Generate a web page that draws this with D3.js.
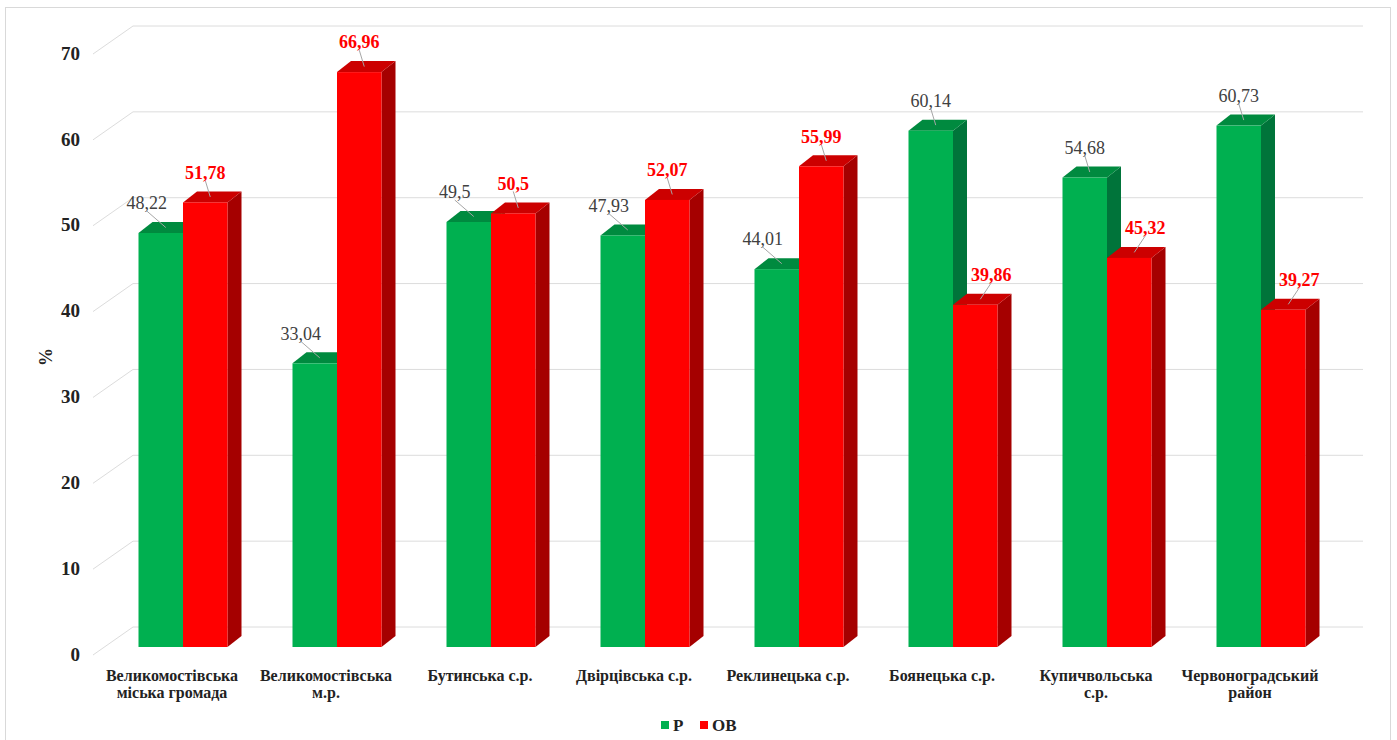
<!DOCTYPE html>
<html>
<head>
<meta charset="utf-8">
<script src="https://cdn.jsdelivr.net/npm/d3@7"></script>
<style>
  html, body { margin: 0; padding: 0; background: #ffffff; }
  svg { display: block; }
  text { font-family: "Liberation Serif", "Times New Roman", Tinos, "DejaVu Serif", serif; }
</style>
</head>
<body>
<svg id="chart" width="1397" height="740"></svg>
<script>
// ---- data ----
const categories = [
  ["Великомостівська", "міська громада"],
  ["Великомостівська", "м.р."],
  ["Бутинська с.р."],
  ["Двірцівська с.р."],
  ["Реклинецька с.р."],
  ["Боянецька с.р."],
  ["Купичвольська", "с.р."],
  ["Червоноградський", "район"]
];
const seriesNames = ["Р", "ОВ"];
const valuesP  = [48.22, 33.04, 49.5, 47.93, 44.01, 60.14, 54.68, 60.73];
const valuesOB = [51.78, 66.96, 50.5, 52.07, 55.99, 39.86, 45.32, 39.27];
const valueLabelsP  = ["48,22", "33,04", "49,5", "47,93", "44,01", "60,14", "54,68", "60,73"];
const valueLabelsOB = ["51,78", "66,96", "50,5", "52,07", "55,99", "39,86", "45,32", "39,27"];
const yTicks = [0, 10, 20, 30, 40, 50, 60, 70];
const yTitle = "%";

// ---- layout ----
const svg = d3.select("#chart");

const colors = {
  "Р":  { front: "#00B050", top: "#008A3F", side: "#00743A" },
  "ОВ": { front: "#FF0000", top: "#CC0000", side: "#A50000" }
};

// chart border
svg.append("rect").attr("x", 5.5).attr("y", 7.5).attr("width", 1385).attr("height", 745)
  .attr("fill", "#fff").attr("stroke", "#d9d9d9");

const catIdx = categories.map((c, i) => i);
const x0 = d3.scaleBand().domain(catIdx).range([106, 1338]).paddingInner(0).paddingOuter(0);
const pairW = 89;
const x1 = d3.scaleBand().domain(seriesNames).range([0, pairW]);

const h = d3.scaleLinear().domain([0, 70]).range([0, 601]);
const baseFront = 655, baseBar = 647, baseBack = 627;
const backDX = 40, backX0 = 133, backX1 = 1363;
const depthX = 14, depthY = -11;

// gridlines
const grid = svg.append("g");
yTicks.forEach(t => {
  const yb = baseBack - h(t), yf = baseFront - h(t);
  grid.append("line").attr("x1", backX0).attr("x2", backX1).attr("y1", yb).attr("y2", yb)
    .attr("stroke", "#dcdcdc").attr("stroke-width", 1);
  grid.append("line").attr("x1", backX0 - backDX).attr("y1", yf).attr("x2", backX0).attr("y2", yb)
    .attr("stroke", "#dcdcdc").attr("stroke-width", 1);
});

// y tick labels
svg.append("g").selectAll("text").data(yTicks).join("text")
  .attr("x", 80).attr("y", d => baseFront - h(d) - 1)
  .attr("dy", "0.35em").attr("text-anchor", "end")
  .attr("font-weight", "bold").attr("font-size", 19)
  .attr("fill", "#222").text(d => d);

// y title
svg.append("text").attr("transform", "translate(52,357) rotate(-90)")
  .attr("text-anchor", "middle").attr("font-weight", "bold")
  .attr("font-size", 18).attr("fill", "#222").text(yTitle);

// bars
const barsG = svg.append("g");
const labelsG = svg.append("g");
catIdx.forEach(i => {
  const pairX = x0(i) + x0.bandwidth() / 2 - pairW / 2;
  const vals = [valuesP[i], valuesOB[i]];
  const labs = [valueLabelsP[i], valueLabelsOB[i]];
  seriesNames.forEach((s, j) => {
    const v = vals[j];
    const bx = pairX + x1(s), bw = x1.bandwidth();
    const yt = baseBar - h(v), yb = baseBar;
    const c = colors[s];
    barsG.append("path")
      .attr("d", `M${bx + bw},${yt} L${bx + bw + depthX},${yt + depthY} L${bx + bw + depthX},${yb + depthY} L${bx + bw},${yb} Z`)
      .attr("fill", c.side);
    barsG.append("path")
      .attr("d", `M${bx},${yt} L${bx + depthX},${yt + depthY} L${bx + bw + depthX},${yt + depthY} L${bx + bw},${yt} Z`)
      .attr("fill", c.top);
    barsG.append("rect").attr("x", bx).attr("y", yt).attr("width", bw).attr("height", yb - yt)
      .attr("fill", c.front);

    const other = vals[1 - j];
    let lx = bx + bw / 2;
    if (v < other) lx += (j === 0 ? -14 : 16);
    const ly = yt - 30;
    const tx = bx + bw / 2 + depthX / 2 - 2, ty = yt + depthY / 2;
    labelsG.append("line").attr("x1", lx).attr("y1", ly + 8).attr("x2", tx).attr("y2", ty)
      .attr("stroke", "#a6a6a6").attr("stroke-width", 1);
    labelsG.append("text").attr("x", lx).attr("y", ly).attr("dy", "0.35em")
      .attr("text-anchor", "middle").attr("font-size", 18)
      .attr("font-weight", j === 0 ? "normal" : "bold")
      .attr("fill", j === 0 ? "#404040" : "#FF0000").text(labs[j]);
  });
});

// category labels
const catG = svg.append("g");
catIdx.forEach(i => {
  const cx = x0(i) + x0.bandwidth() / 2 - 11;
  const t = catG.append("text").attr("x", cx).attr("y", 681)
    .attr("text-anchor", "middle").attr("font-weight", "bold")
    .attr("font-size", 16).attr("fill", "#222");
  categories[i].forEach((line, k) => {
    t.append("tspan").attr("x", cx).attr("dy", k === 0 ? 0 : 17).text(line);
  });
});

// legend
const legend = svg.append("g");
const legendItems = [
  { name: seriesNames[0], x: 661 },
  { name: seriesNames[1], x: 700 }
];
legendItems.forEach(it => {
  legend.append("rect").attr("x", it.x).attr("y", 721).attr("width", 8).attr("height", 8)
    .attr("fill", colors[it.name].front);
  legend.append("text").attr("x", it.x + 12).attr("y", 725).attr("dy", "0.35em")
    .attr("font-weight", "bold").attr("font-size", 17)
    .attr("fill", "#222").text(it.name);
});
</script>
</body>
</html>
